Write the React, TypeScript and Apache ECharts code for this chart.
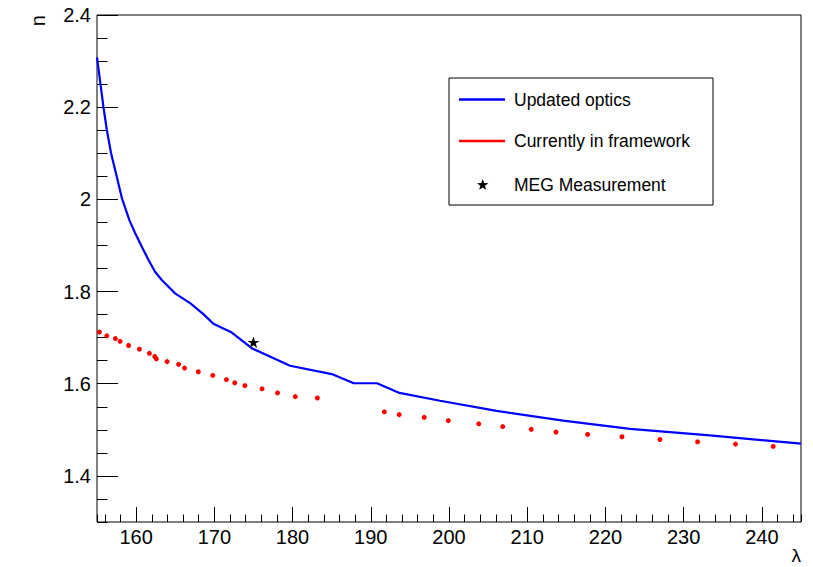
import React, { useEffect, useRef } from "react";
import * as echarts from "echarts";

// Updated optics (blue line)
const blueX = [155.0, 155.82, 156.25, 156.8, 157.53, 158.21, 159.14, 159.87, 160.73, 161.57, 162.42, 163.28, 164.98, 166.9, 168.6, 169.88, 172.23, 174.78, 179.68, 185.01, 187.83, 190.8, 193.67, 198.85, 206.09, 214.6, 223.13, 233.35, 245.0];
const blueY = [2.308, 2.201, 2.151, 2.1, 2.049, 2.001, 1.955, 1.927, 1.897, 1.869, 1.843, 1.825, 1.796, 1.775, 1.751, 1.73, 1.711, 1.677, 1.639, 1.621, 1.601, 1.601, 1.58, 1.563, 1.541, 1.52, 1.502, 1.488, 1.47];

// Currently in framework (red dots)
const redX = [155.31, 156.25, 157.35, 157.95, 159.04, 160.42, 161.7, 162.39, 162.59, 163.96, 165.43, 166.19, 167.95, 169.8, 171.54, 172.61, 173.9, 176.1, 178.08, 180.35, 183.17, 191.73, 193.63, 196.83, 199.91, 203.8, 206.87, 210.51, 213.67, 217.72, 222.11, 226.96, 231.78, 236.63, 241.44];
const redY = [1.712, 1.704, 1.698, 1.692, 1.683, 1.675, 1.666, 1.659, 1.654, 1.648, 1.642, 1.634, 1.626, 1.618, 1.609, 1.602, 1.596, 1.589, 1.58, 1.572, 1.569, 1.539, 1.533, 1.527, 1.52, 1.513, 1.507, 1.501, 1.495, 1.49, 1.485, 1.479, 1.474, 1.469, 1.464];

// MEG Measurement
const megX = [175];
const megY = [1.69];

const legendNames = ["Updated optics", "Currently in framework", "MEG Measurement"];
const xTitle = "λ";
const yTitle = "n";

const FONT = "'Liberation Sans', Arial, Helvetica, sans-serif";
const STAR_PATH =
  "path://M0,-1 L0.2245,-0.309 L0.951,-0.309 L0.363,0.118 L0.588,0.809 L0,0.382 L-0.588,0.809 L-0.363,0.118 L-0.951,-0.309 L-0.2245,-0.309 Z";

function starPoints(cx: number, cy: number, r: number) {
  const pts: number[][] = [];
  for (let i = 0; i < 10; i++) {
    const rr = i % 2 === 0 ? r : r * 0.4;
    const a = -Math.PI / 2 + (i * Math.PI) / 5;
    pts.push([cx + rr * Math.cos(a), cy + rr * Math.sin(a)]);
  }
  return pts;
}

export default function App() {
  const ref = useRef<HTMLDivElement>(null);
  useEffect(() => {
    if (!ref.current) return;
    const chart = echarts.init(ref.current, undefined, { renderer: "svg" });
    const zip = (xs: number[], ys: number[]) => xs.map((x, i) => [x, ys[i]]);
    const grid = { left: 97, top: 15, right: 12, bottom: 45 };
    chart.setOption({
      animation: false,
      backgroundColor: "#fff",
      grid: { ...grid, show: true, borderColor: "#000", borderWidth: 1, backgroundColor: "transparent" },
      xAxis: [
        {
          type: "value",
          min: 155,
          max: 245,
          splitNumber: 9,
          axisLine: { show: false },
          axisTick: { show: true, inside: true, length: 15, lineStyle: { color: "#000", width: 1 } },
          axisLabel: { show: true, showMinLabel: false, showMaxLabel: false, margin: 5, fontSize: 20, color: "#000", fontFamily: FONT },
          splitLine: { show: false },
        },
        {
          type: "value",
          min: 155,
          max: 245,
          splitNumber: 45,
          position: "bottom",
          axisLine: { show: false },
          axisTick: { show: true, inside: true, length: 7.5, lineStyle: { color: "#000", width: 1 } },
          axisLabel: { show: false },
          splitLine: { show: false },
        },
      ],
      yAxis: [
        {
          type: "value",
          min: 1.3,
          max: 2.4,
          splitNumber: 5,
          axisLine: { show: false },
          axisTick: { show: true, inside: true, length: 21, lineStyle: { color: "#000", width: 1 } },
          axisLabel: { show: true, showMinLabel: false, showMaxLabel: true, margin: 6, fontSize: 20, color: "#000", fontFamily: FONT },
          splitLine: { show: false },
        },
        {
          type: "value",
          min: 1.3,
          max: 2.4,
          interval: 0.05,
          position: "left",
          axisLine: { show: false },
          axisTick: { show: true, inside: true, length: 10.5, lineStyle: { color: "#000", width: 1 } },
          axisLabel: { show: false },
          splitLine: { show: false },
        },
      ],
      series: [
        {
          name: legendNames[1],
          type: "scatter",
          data: zip(redX, redY),
          symbol: "circle",
          symbolSize: 5,
          itemStyle: { color: "#ff0000", opacity: 1 },
          z: 2,
        },
        {
          name: legendNames[0],
          type: "line",
          data: zip(blueX, blueY),
          showSymbol: false,
          symbol: "none",
          lineStyle: { color: "#0000ff", width: 2.2 },
          itemStyle: { color: "#0000ff" },
          clip: true,
          z: 3,
        },
        {
          name: legendNames[2],
          type: "scatter",
          data: zip(megX, megY),
          symbol: STAR_PATH,
          symbolKeepAspect: true,
          symbolSize: 12,
          itemStyle: { color: "#000", opacity: 1 },
          z: 4,
        },
      ],
      graphic: [
        {
          type: "text",
          x: 38,
          y: 15,
          rotation: Math.PI / 2,
          style: { text: yTitle, align: "right", verticalAlign: "middle", fontSize: 20, fontFamily: FONT, fill: "#000" },
        },
        {
          type: "text",
          x: 801,
          y: 555,
          style: { text: xTitle, align: "right", verticalAlign: "middle", fontSize: 19, fontFamily: FONT, fill: "#000" },
        },
        {
          type: "group",
          children: [
            {
              type: "rect",
              shape: { x: 449, y: 78, width: 264, height: 127 },
              style: { fill: "#fff", stroke: "#000", lineWidth: 1 },
            },
            {
              type: "line",
              shape: { x1: 459, y1: 99.5, x2: 505, y2: 99.5 },
              style: { stroke: "#0000ff", lineWidth: 2.5 },
            },
            {
              type: "line",
              shape: { x1: 459, y1: 141, x2: 505, y2: 141 },
              style: { stroke: "#ff0000", lineWidth: 2.5 },
            },
            {
              type: "polygon",
              shape: { points: starPoints(482.7, 185, 6) },
              style: { fill: "#000" },
            },
            {
              type: "text",
              x: 514,
              y: 99.5,
              style: { text: legendNames[0], verticalAlign: "middle", fontSize: 17.5, fontFamily: FONT, fill: "#000" },
            },
            {
              type: "text",
              x: 514,
              y: 141,
              style: { text: legendNames[1], verticalAlign: "middle", fontSize: 17.5, fontFamily: FONT, fill: "#000" },
            },
            {
              type: "text",
              x: 514,
              y: 184.5,
              style: { text: legendNames[2], verticalAlign: "middle", fontSize: 17.5, fontFamily: FONT, fill: "#000" },
            },
          ],
        },
      ],
    });
    return () => chart.dispose();
  }, []);
  return <div ref={ref} style={{ position: "absolute", left: 0, top: 0, width: 813, height: 567 }} />;
}
